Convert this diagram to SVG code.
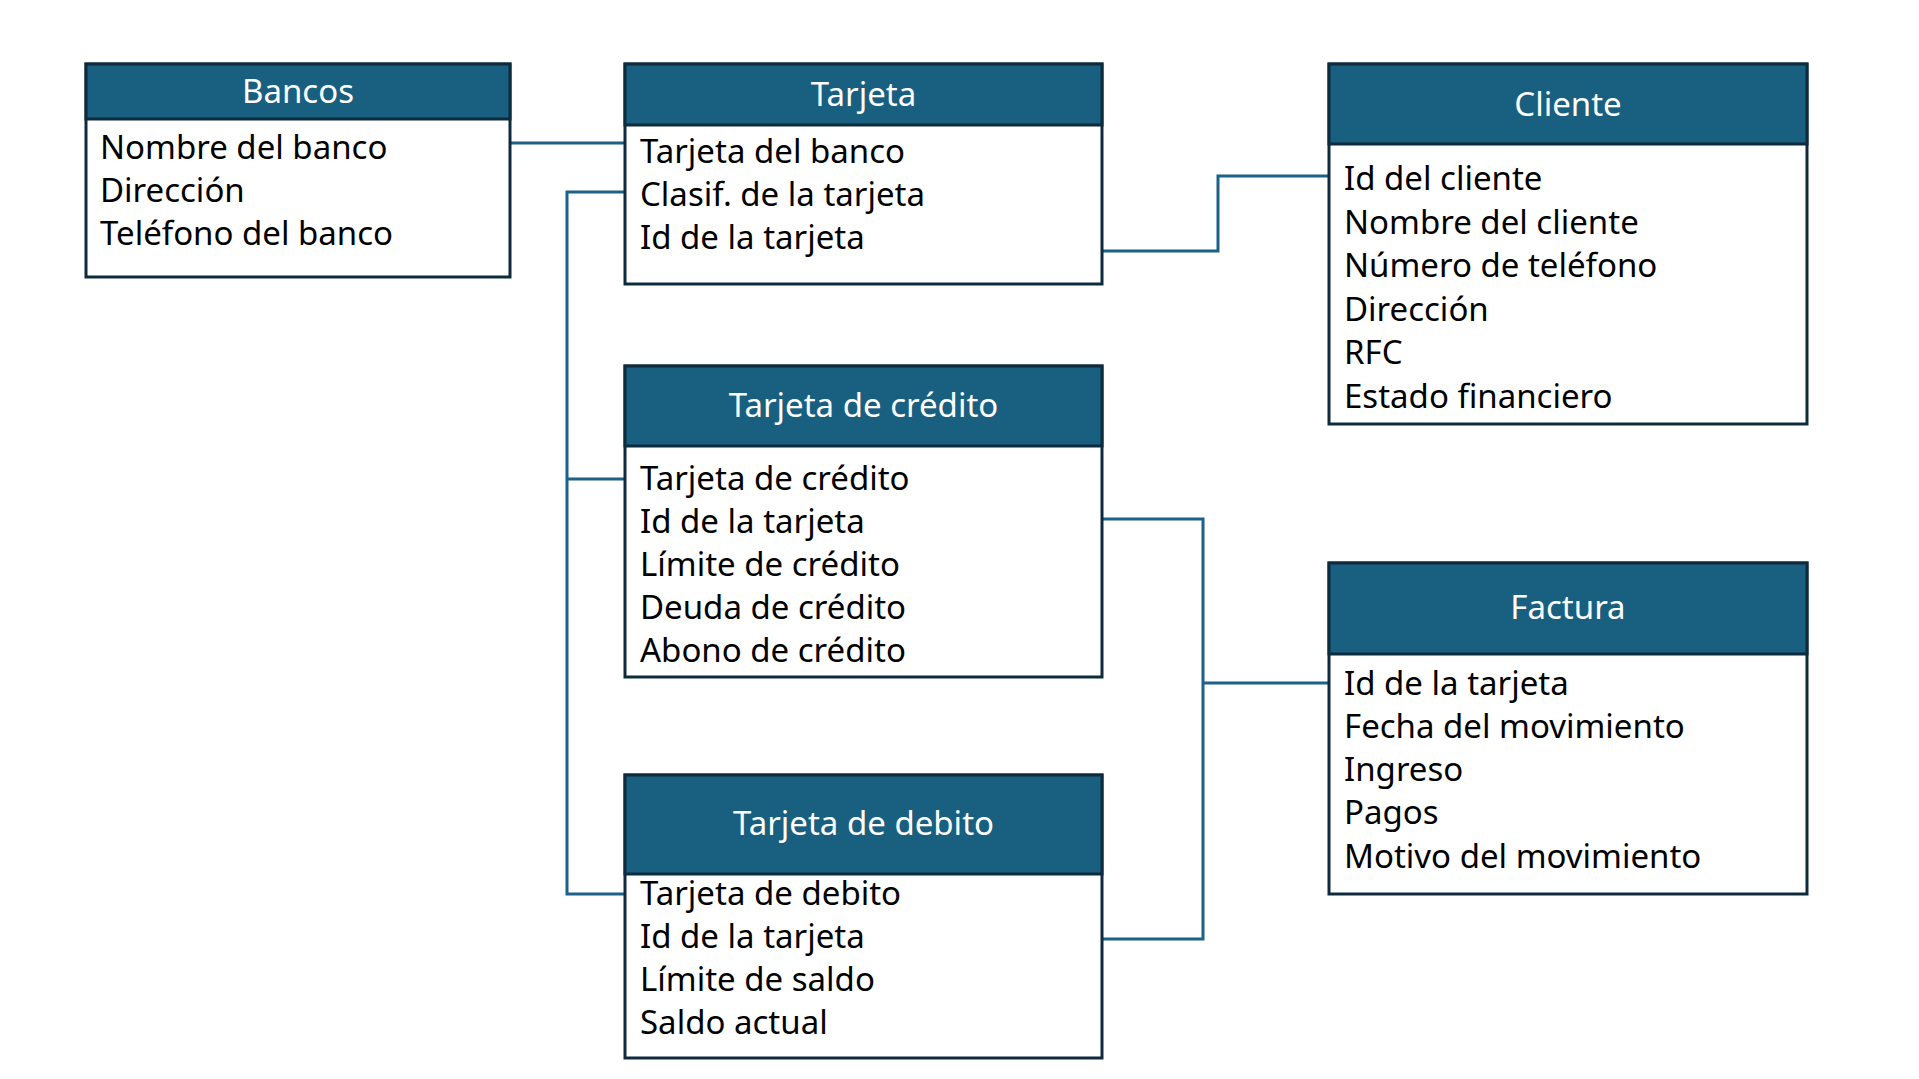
<svg xmlns="http://www.w3.org/2000/svg" width="1919" height="1079" viewBox="0 0 1919 1079">
<style>
.box{fill:#ffffff;stroke:#0e2a3d;stroke-width:3}
.hdr{fill:#185f80;stroke:#0e2a3d;stroke-width:3}
.title{font-family:"Noto Sans","Liberation Sans",sans-serif;font-size:33px;fill:#ffffff;text-anchor:middle}
.item{font-family:"Noto Sans","Liberation Sans",sans-serif;font-size:33px;fill:#000000}
.conn{fill:none;stroke:#1b6189;stroke-width:3}
</style>
<rect width="1919" height="1079" fill="#ffffff"/>
<g id="connectors">
<path class="conn" d="M510 143 H625"/>
<path class="conn" d="M625 192 H567 V894 H625"/>
<path class="conn" d="M567 479 H625"/>
<path class="conn" d="M1102 251 H1218 V176 H1329"/>
<path class="conn" d="M1102 519 H1203 V939 H1102"/>
<path class="conn" d="M1203 683 H1329"/>
</g>
<g id="bancos">
<rect class="box" x="86" y="64" width="424" height="213"/>
<rect class="hdr" x="86" y="64" width="424" height="55"/>
<text class="title" x="298" y="103">Bancos</text>
<text class="item" x="100" y="159">Nombre del banco</text>
<text class="item" x="100" y="202">Dirección</text>
<text class="item" x="100" y="245">Teléfono del banco</text>
</g>
<g id="tarjeta">
<rect class="box" x="625" y="64" width="477" height="220"/>
<rect class="hdr" x="625" y="64" width="477" height="61"/>
<text class="title" x="863.5" y="106">Tarjeta</text>
<text class="item" x="640" y="163">Tarjeta del banco</text>
<text class="item" x="640" y="206">Clasif. de la tarjeta</text>
<text class="item" x="640" y="249">Id de la tarjeta</text>
</g>
<g id="cliente">
<rect class="box" x="1329" y="64" width="478" height="360"/>
<rect class="hdr" x="1329" y="64" width="478" height="80"/>
<text class="title" x="1568" y="116">Cliente</text>
<text class="item" x="1344" y="190">Id del cliente</text>
<text class="item" x="1344" y="233.5">Nombre del cliente</text>
<text class="item" x="1344" y="277">Número de teléfono</text>
<text class="item" x="1344" y="320.5">Dirección</text>
<text class="item" x="1344" y="364">RFC</text>
<text class="item" x="1344" y="407.5">Estado financiero</text>
</g>
<g id="tarjeta-credito">
<rect class="box" x="625" y="366" width="477" height="311"/>
<rect class="hdr" x="625" y="366" width="477" height="80"/>
<text class="title" x="863.5" y="417">Tarjeta de crédito</text>
<text class="item" x="640" y="490">Tarjeta de crédito</text>
<text class="item" x="640" y="533">Id de la tarjeta</text>
<text class="item" x="640" y="576">Límite de crédito</text>
<text class="item" x="640" y="619">Deuda de crédito</text>
<text class="item" x="640" y="662">Abono de crédito</text>
</g>
<g id="tarjeta-debito">
<rect class="box" x="625" y="775" width="477" height="283"/>
<rect class="hdr" x="625" y="775" width="477" height="99"/>
<text class="title" x="863.5" y="835">Tarjeta de debito</text>
<text class="item" x="640" y="905">Tarjeta de debito</text>
<text class="item" x="640" y="948">Id de la tarjeta</text>
<text class="item" x="640" y="991">Límite de saldo</text>
<text class="item" x="640" y="1034">Saldo actual</text>
</g>
<g id="factura">
<rect class="box" x="1329" y="563" width="478" height="331"/>
<rect class="hdr" x="1329" y="563" width="478" height="91"/>
<text class="title" x="1568" y="619">Factura</text>
<text class="item" x="1344" y="695">Id de la tarjeta</text>
<text class="item" x="1344" y="738">Fecha del movimiento</text>
<text class="item" x="1344" y="781">Ingreso</text>
<text class="item" x="1344" y="824">Pagos</text>
<text class="item" x="1344" y="868">Motivo del movimiento</text>
</g>
</svg>
